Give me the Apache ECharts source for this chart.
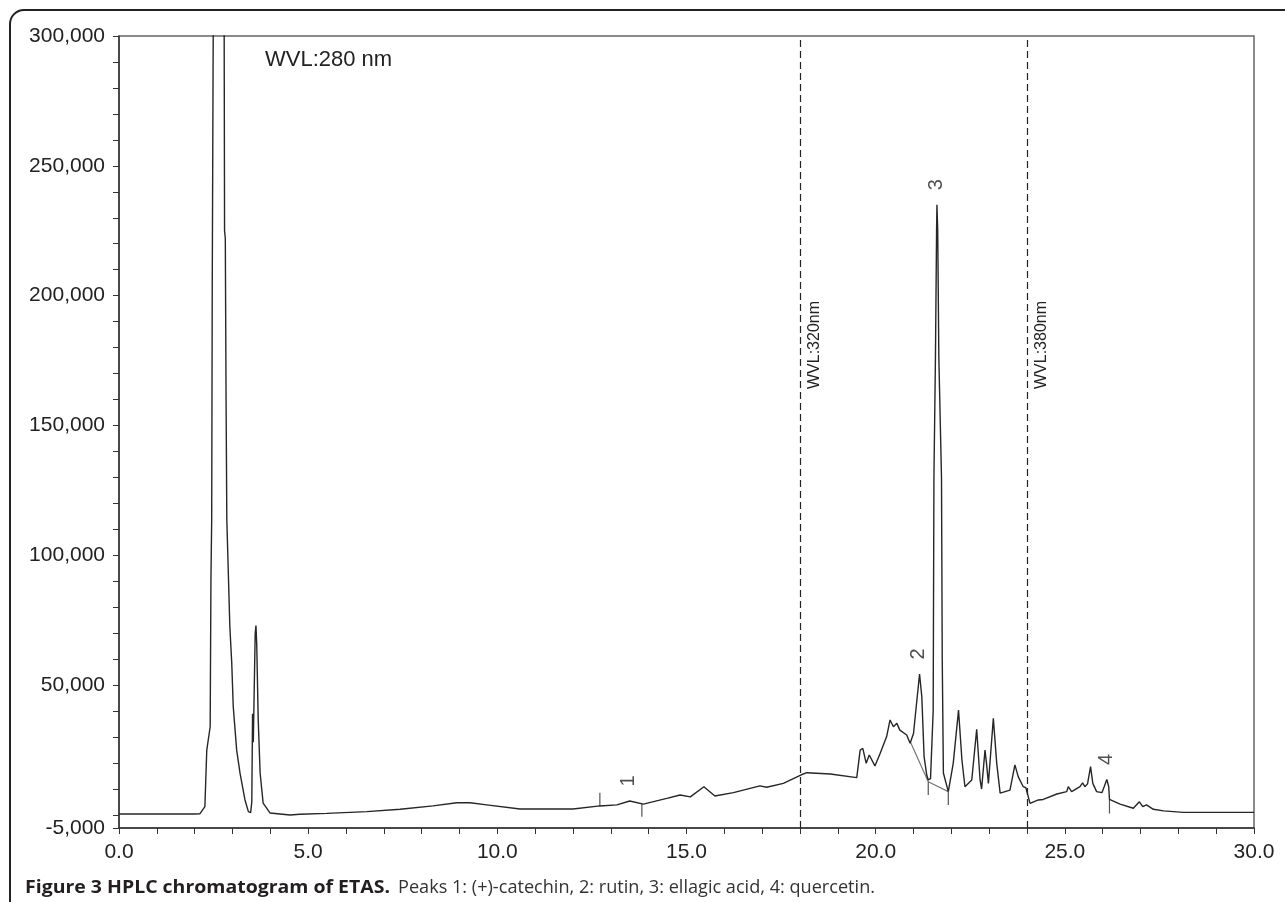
<!DOCTYPE html>
<html>
<head>
<meta charset="utf-8">
<title>HPLC chromatogram of ETAS</title>
<script src="https://cdn.jsdelivr.net/npm/echarts@6/dist/echarts.min.js"></script>
<style>
    html, body { margin: 0; padding: 0; background: #fff; }
    #chart { width: 1285px; height: 902px; }
</style>
</head>
<body>
<div id="chart"></div>
<script>
// retention time (min) and detector signal
const retentionTime = [
    0.00, 1.00, 2.00, 2.14, 2.27, 2.32, 2.41, 2.43, 2.45, 2.465, 2.49, 2.51, 2.74, 2.78, 2.79, 2.81,
    2.83, 2.85, 2.93, 2.98, 3.02, 3.11, 3.20, 3.33, 3.42, 3.48, 3.51, 3.53, 3.55, 3.57, 3.60, 3.62,
    3.64, 3.68, 3.73, 3.81, 3.99, 4.52, 4.78, 5.49, 6.55, 7.43, 8.30, 8.93, 9.28, 9.72, 10.60, 12.00,
    12.71, 13.16, 13.50, 13.86, 14.48, 14.83, 15.10, 15.46, 15.75, 16.24, 16.94, 17.12, 17.56, 18.02,
    18.18, 18.80, 19.50, 19.59, 19.66, 19.75, 19.83, 19.98, 20.12, 20.29, 20.38, 20.47, 20.56, 20.64,
    20.82, 20.91, 21.00, 21.16, 21.22, 21.28, 21.35, 21.39, 21.45, 21.52, 21.54, 21.58, 21.61, 21.62,
    21.64, 21.67, 21.74, 21.76, 21.79, 21.92, 22.05, 22.19, 22.28, 22.36, 22.54, 22.67, 22.76, 22.80,
    22.89, 22.93, 22.98, 23.11, 23.20, 23.29, 23.55, 23.68, 23.77, 23.90, 23.97, 24.08, 24.12, 24.30,
    24.43, 24.79, 25.05, 25.09, 25.18, 25.40, 25.47, 25.53, 25.60, 25.68, 25.74, 25.84, 25.98, 26.04,
    26.11, 26.16, 26.18, 26.46, 26.81, 26.97, 27.06, 27.16, 27.34, 27.61, 28.13, 29.46, 30.00
];
const signal = [
    400, 400, 400, 500, 3200, 25000, 34000, 90500, 113600, 205000, 300000, 420000, 420000, 300000, 225000, 222000,
    160000, 113600, 72500, 58500, 41700, 25000, 16000, 5800, 1300, 900, 5000, 39000, 28000, 45000, 70000, 73000,
    66000, 36600, 16200, 4600, 800, 0, 300, 650, 1300, 2200, 3500, 4700, 4700, 3900, 2300, 2300,
    3500, 3900, 5400, 4200, 6400, 7700, 7000, 10900, 7300, 8600, 11200, 10700, 12200, 15400,
    16300, 15800, 14400, 25000, 25700, 19900, 23100, 18900, 23800, 30200, 36600, 34000, 35300, 32700,
    30800, 27600, 31400, 54300, 45500, 22500, 15400, 13500, 14000, 40000, 130000, 176000, 225000, 235000,
    225000, 176000, 130000, 59700, 16200, 9000, 19900, 40400, 21200, 10900, 13500, 33000, 13500, 10000,
    25000, 19900, 12200, 37200, 19900, 8400, 9600, 19300, 14700, 10900, 10500, 4500, 4500, 5800,
    6000, 8100, 9000, 10900, 9000, 10900, 12400, 10900, 12000, 18600, 12200, 9000, 8600, 10900,
    13700, 10900, 6000, 4200, 2600, 5100, 3200, 3900, 2200, 1600, 1000, 1000, 1000
];

// numbered peaks
const peakNames = ['1', '2', '3', '4'];
const peakTimes = [13.46, 21.14, 21.62, 26.11];
const peakHeights = [5400, 54300, 235000, 13700];

// integration baseline under peaks 2/3 and the peak start/end marks
const baselineTimes = [20.91, 21.39, 21.92];
const baselineValues = [28400, 12800, 9000];
const markTimes = [12.71, 13.82, 21.39, 21.92, 26.18];
const markTops = [8600, 4200, 12800, 9000, 6000];
const markBottoms = [3500, -700, 7700, 3900, 600];

// detector wavelength switches
const switchTimes = [18, 24];
const switchNames = ['WVL:320nm', 'WVL:380nm'];

const xLabelValues = [0, 5, 10, 15, 20, 25, 30];
const yLabelValues = [-5000, 50000, 100000, 150000, 200000, 250000, 300000];

const xTickValues = [];
for (let t = 0; t <= 30; t++) xTickValues.push(t);
const yTickValues = [-5000];
for (let v = 0; v <= 300000; v += 10000) yTickValues.push(v);

const captionBold = 'Figure 3 HPLC chromatogram of ETAS.';
const captionText = 'Peaks 1: (+)-catechin, 2: rutin, 3: ellagic acid, 4: quercetin.';

const chart = echarts.init(document.getElementById('chart'));

const axisFont = { fontFamily: 'Liberation Sans', fontSize: 21, color: '#222' };

const series = [{
    type: 'line',
    data: retentionTime.map((t, i) => [t, signal[i]]),
    symbol: 'none',
    clip: true,
    lineStyle: { color: '#262626', width: 1.4 },
    z: 3,
    markLine: {
        silent: true,
        symbol: 'none',
        label: { show: false },
        lineStyle: { color: '#222', width: 1.2, type: [7, 4] },
        data: switchTimes.map(t => ({ xAxis: t }))
    }
}, {
    type: 'line',
    data: baselineTimes.map((t, i) => [t, baselineValues[i]]),
    symbol: 'none',
    lineStyle: { color: '#777', width: 1.2 },
    z: 2
}];

markTimes.forEach((t, i) => {
    series.push({
        type: 'line',
        data: [[t, markTops[i]], [t, markBottoms[i]]],
        symbol: 'none',
        lineStyle: { color: '#555', width: 1.2 },
        z: 2
    });
});

series.push({
    type: 'scatter',
    data: peakTimes.map((t, i) => [t, peakHeights[i]]),
    symbolSize: 0,
    silent: true,
    label: {
        show: true,
        position: 'inside',
        rotate: 90,
        offset: [20, 0],
        formatter: p => peakNames[p.dataIndex],
        fontFamily: 'Liberation Sans',
        fontSize: 20,
        color: '#222'
    }
});

chart.setOption({
    backgroundColor: '#fff',
    animation: false,
    grid: {
        left: 119, right: 31, top: 36, bottom: 74,
        show: true, borderColor: '#666', borderWidth: 1.5
    },
    xAxis: {
        type: 'value', min: 0, max: 30,
        axisLine: { onZero: false, lineStyle: { color: '#333', width: 1.5 } },
        axisTick: { length: 6, lineStyle: { color: '#333' }, customValues: xTickValues },
        axisLabel: Object.assign({
            margin: 14,
            customValues: xLabelValues,
            formatter: v => v.toFixed(1)
        }, axisFont),
        splitLine: { show: false }
    },
    yAxis: {
        type: 'value', min: -5000, max: 300000,
        axisLine: { show: true, lineStyle: { color: '#333', width: 1.5 } },
        axisTick: { show: true, length: 6, lineStyle: { color: '#333' }, customValues: yTickValues },
        axisLabel: Object.assign({
            margin: 14,
            customValues: yLabelValues,
            formatter: v => v.toLocaleString('en-US')
        }, axisFont),
        splitLine: { show: false }
    },
    series: series
});

// caption font is condensed in the source, squeeze Open Sans to the same widths
function squeeze(text, font, width) {
    const ctx = document.createElement('canvas').getContext('2d');
    ctx.font = font;
    return width / ctx.measureText(text).width;
}

// texts: wavelength labels, figure frame and caption
const graphics = [{
    type: 'rect',
    shape: { x: 10, y: 10, width: 1400, height: 1000, r: 14 },
    style: { fill: 'none', stroke: '#222', lineWidth: 2 },
    silent: true,
    z: 100
}, {
    type: 'text',
    x: 265, y: 60,
    style: {
        text: 'WVL:280 nm', fontFamily: 'Liberation Sans', fontSize: 22,
        fill: '#222', verticalAlign: 'middle'
    },
    z: 100
}, {
    type: 'text',
    x: 25, y: 888,
    scaleX: squeeze(captionBold, 'bold 18px "Open Sans"', 365),
    style: {
        text: captionBold, fontFamily: 'Open Sans', fontWeight: 'bold', fontSize: 18,
        fill: '#231f20', verticalAlign: 'middle'
    },
    z: 100
}, {
    type: 'text',
    x: 398, y: 888,
    scaleX: squeeze(captionText, '18px "Open Sans"', 477),
    style: {
        text: captionText, fontFamily: 'Open Sans', fontSize: 18,
        fill: '#333', verticalAlign: 'middle'
    },
    z: 100
}];

switchTimes.forEach((t, i) => {
    const px = chart.convertToPixel({ gridIndex: 0 }, [t, 0])[0];
    graphics.push({
        type: 'text',
        x: px + 15, y: 345,
        rotation: Math.PI / 2,
        style: {
            text: switchNames[i], fontFamily: 'Liberation Sans', fontSize: 16,
            fill: '#222', align: 'center', verticalAlign: 'middle'
        },
        z: 100
    });
});

chart.setOption({ graphic: graphics });

window.addEventListener('resize', () => chart.resize());
</script>
</body>
</html>
